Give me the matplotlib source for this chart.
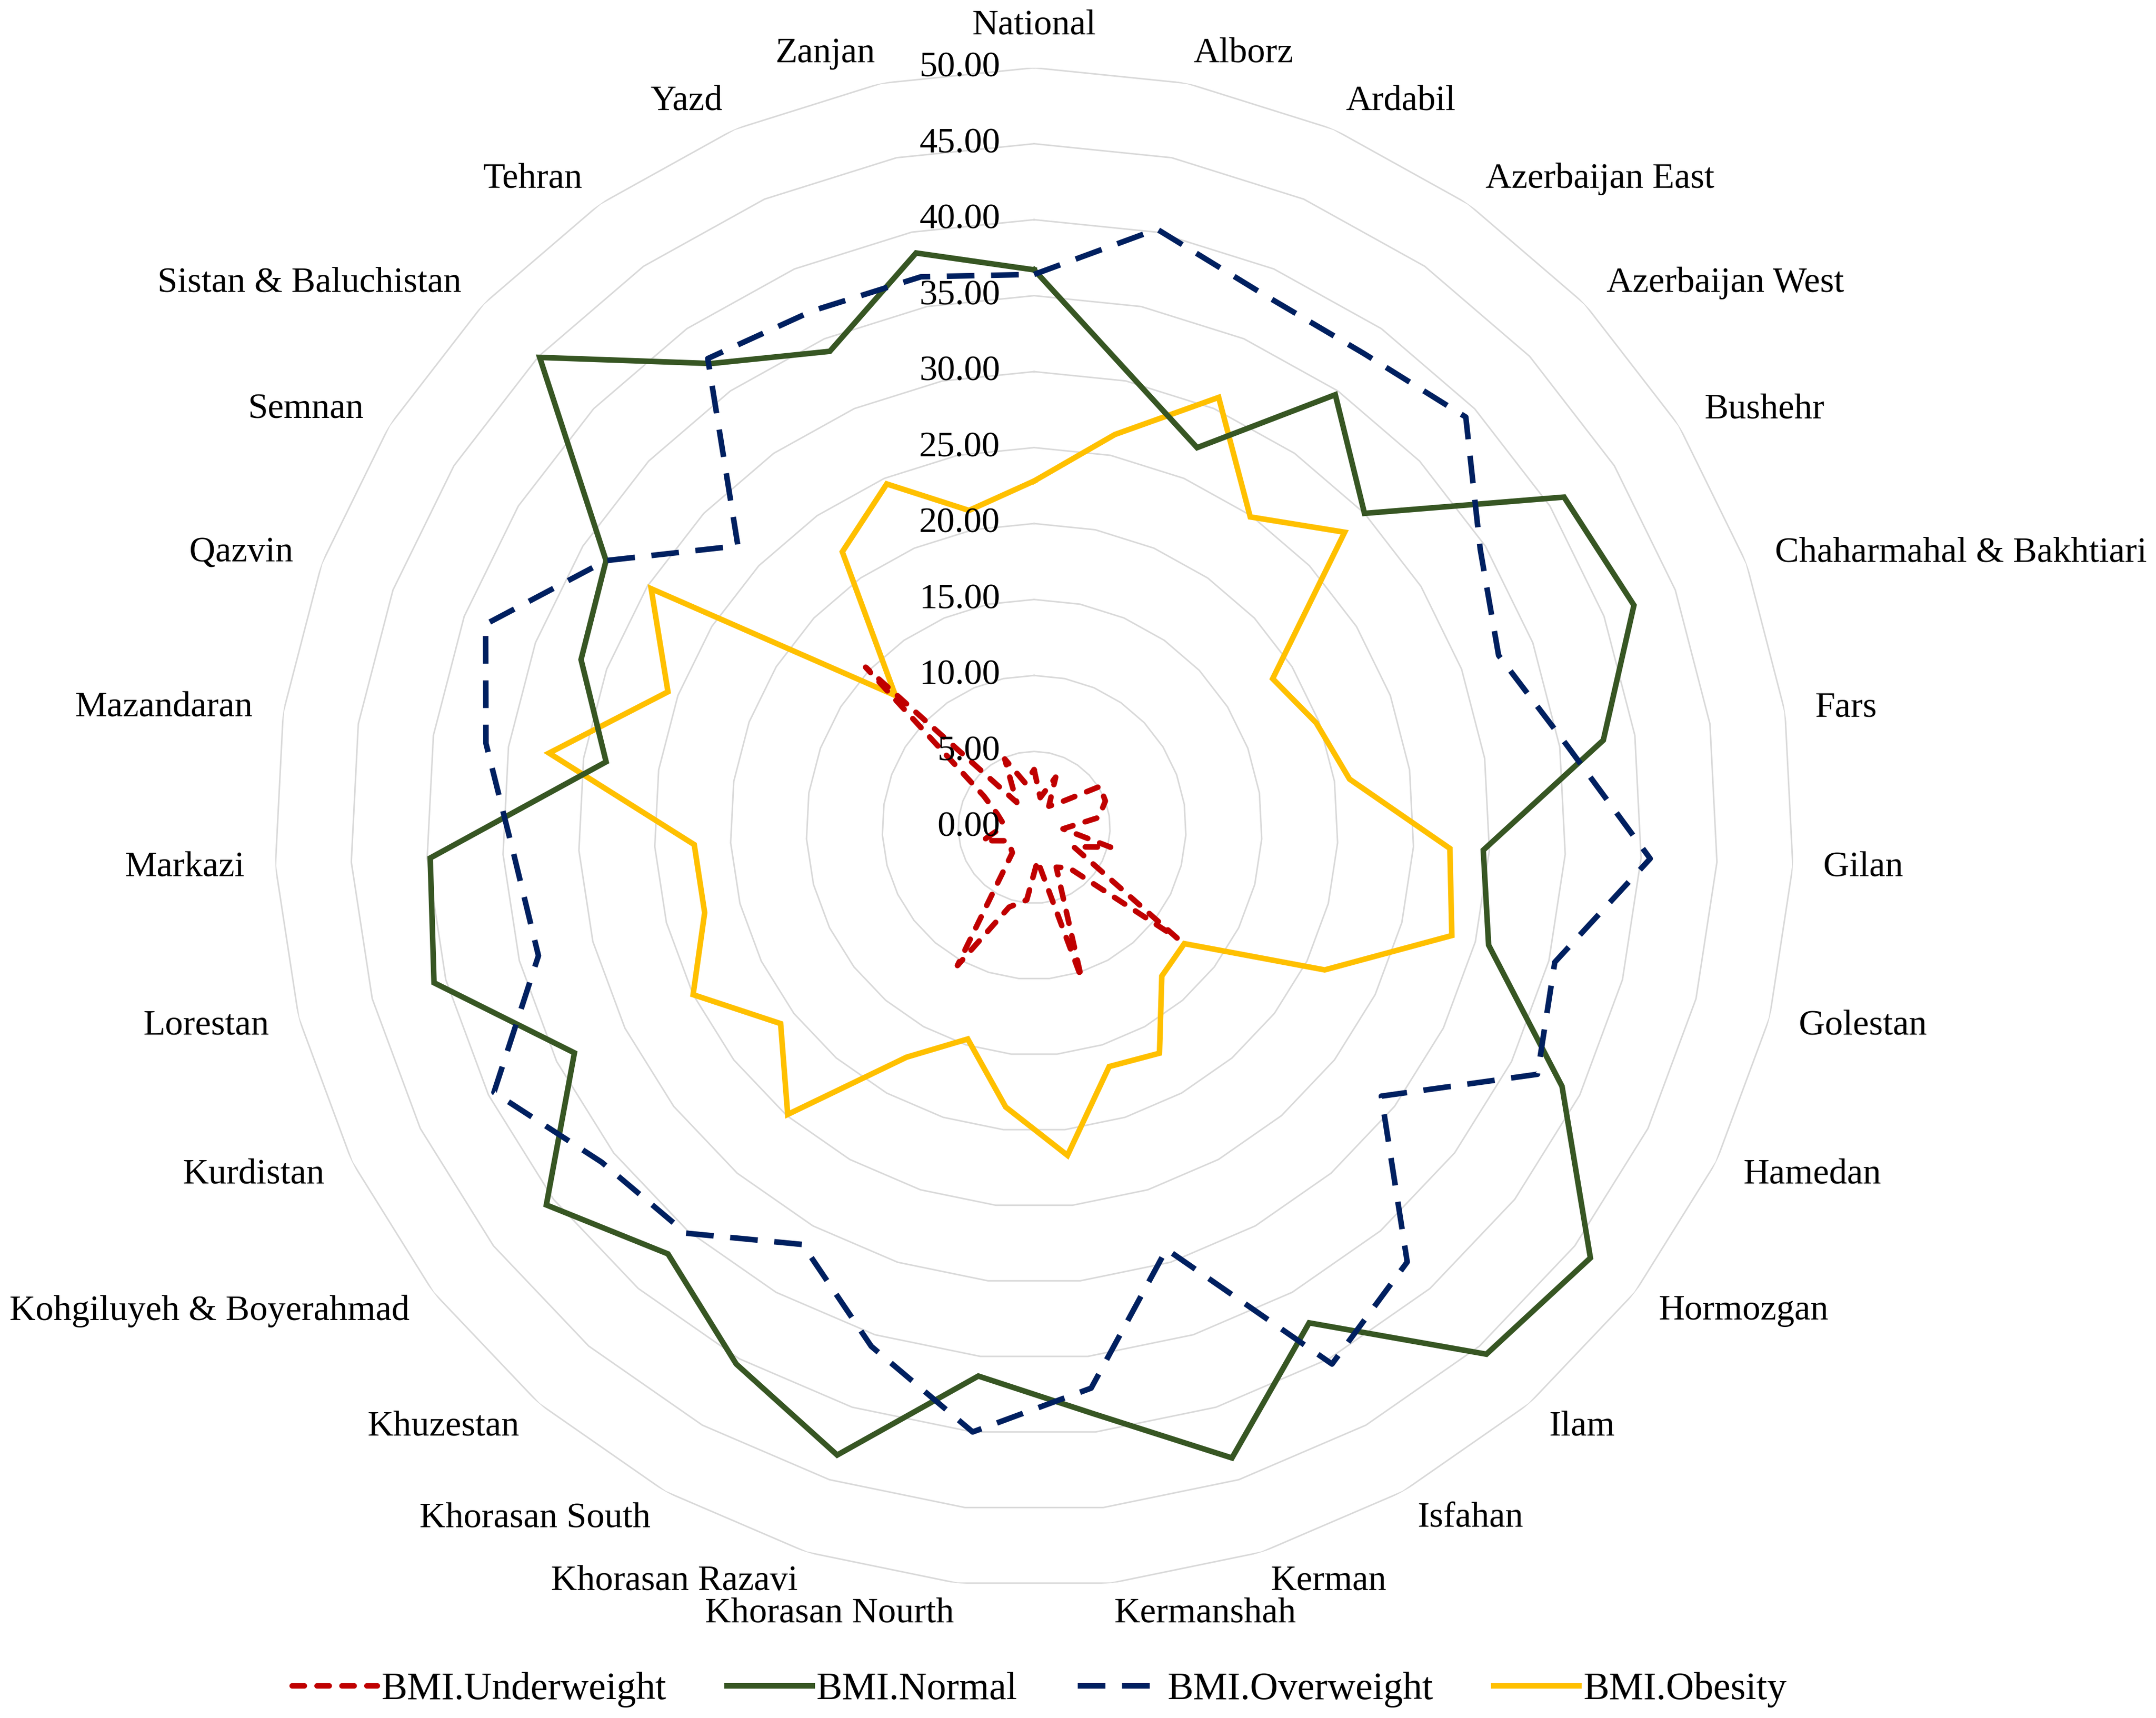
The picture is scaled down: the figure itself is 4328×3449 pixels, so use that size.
import numpy as np
import matplotlib
matplotlib.use("Agg")
import matplotlib.pyplot as plt
from matplotlib.transforms import offset_copy
from matplotlib.font_manager import FontProperties

plt.rcParams['font.family'] = ['Liberation Serif', 'DejaVu Serif']

categories = ["National", "Alborz", "Ardabil", "Azerbaijan East", "Azerbaijan West",
              "Bushehr", "Chaharmahal & Bakhtiari", "Fars", "Gilan", "Golestan",
              "Hamedan", "Hormozgan", "Ilam", "Isfahan", "Kerman", "Kermanshah",
              "Khorasan Nourth", "Khorasan Razavi", "Khorasan South", "Khuzestan",
              "Kohgiluyeh & Boyerahmad", "Kurdistan", "Lorestan", "Markazi",
              "Mazandaran", "Qazvin", "Semnan", "Sistan & Baluchistan", "Tehran",
              "Yazd", "Zanjan"]

underweight = [3.8, 2.0, 3.6, 1.7, 2.4, 5.1, 5.0, 4.3, 1.9, 5.2, 2.9, 11.9, 3.5, 3.0,
               10.4, 2.2, 4.8, 5.5, 10.4, 2.2, 2.0, 2.0, 3.5, 2.3, 2.1, 2.6, 3.9, 15.3,
               2.0, 4.9, 3.0]
normal = [36.7, 30.6, 27.2, 34.7, 30.0, 41.1, 42.1, 37.9, 29.6, 30.9, 38.7, 46.3, 45.7,
          37.3, 43.5, 38.8, 36.3, 43.3, 40.4, 37.0, 40.6, 33.7, 40.8, 39.8, 28.5, 31.8,
          33.2, 44.9, 37.2, 34.1, 38.6]
overweight = [36.4, 40.2, 38.2, 38.0, 39.2, 34.6, 32.6, 35.5, 40.6, 35.4, 36.9, 28.9,
              37.7, 40.4, 29.1, 37.1, 40.0, 35.8, 31.4, 35.2, 36.0, 39.6, 33.7, 34.3,
              36.5, 38.5, 33.2, 26.9, 37.6, 37.0, 37.0]
obesity = [22.8, 26.4, 30.8, 24.9, 28.2, 18.5, 19.8, 21.0, 27.4, 28.4, 21.3, 12.5, 12.9,
           17.0, 16.5, 21.7, 18.5, 14.6, 17.3, 24.9, 21.1, 25.0, 22.4, 22.4, 32.3, 25.7,
           29.7, 12.6, 22.1, 24.6, 21.3]

series_names = ["BMI.Underweight", "BMI.Normal", "BMI.Overweight", "BMI.Obesity"]
r_ticks = [0, 5, 10, 15, 20, 25, 30, 35, 40, 45, 50]

fig = plt.figure(figsize=(4328 / 200, 3449 / 200), dpi=200)
ax = fig.add_axes([0.1273, 0.07625, 0.7047, 0.8843], projection='polar')
ax.set_theta_zero_location('N')
ax.set_theta_direction(-1)

n = len(categories)
theta = np.arange(n) * 2 * np.pi / n
theta_c = np.append(theta, theta[0])


def close(v):
    return np.append(np.asarray(v, dtype=float), v[0])


# polygon gridlines
for v in r_ticks[1:]:
    ax.plot(theta_c, [v] * (n + 1), color='#d9d9d9', lw=1.1, zorder=0)

ax.grid(False)
ax.set_xticks([])
ax.set_yticks([])
ax.spines['polar'].set_visible(False)
ax.set_ylim(0, 50)
ax.patch.set_alpha(0)

l_ob, = ax.plot(theta_c, close(obesity), color='#ffc000', lw=4, zorder=2,
                solid_joinstyle='miter')
l_no, = ax.plot(theta_c, close(normal), color='#375623', lw=4, zorder=3,
                solid_joinstyle='miter')
l_ov, = ax.plot(theta_c, close(overweight), color='#002060', lw=4, zorder=4,
                dashes=(5, 3))
l_un, = ax.plot(theta_c, close(underweight), color='#c00000', lw=4, zorder=5,
                dashes=(2.2, 2.3), dash_capstyle='round')

# radial tick labels
tick_tr = offset_copy(ax.transData, fig=fig, x=-24.5, y=0, units='points')
for v in r_ticks:
    ax.text(0, v, f"{v:.2f}", transform=tick_tr, ha='right', va='center',
            fontsize=26, color='#000000', zorder=6)

# category labels
for i, name in enumerate(categories):
    a = np.degrees(theta[i])
    if i == 0:
        ax.text(theta[i], 52.2, name, ha='center', va='baseline', fontsize=26)
    elif a < 180:
        ax.text(theta[i], 52, name, ha='left', va='center', fontsize=26)
    else:
        ax.text(theta[i], 52, name, ha='right', va='center', fontsize=26)

leg_font = FontProperties(family='Liberation Serif', size=28)
leg = fig.legend([l_un, l_no, l_ov, l_ob], series_names, loc='center',
                 bbox_to_anchor=(0.482, 0.0165), ncol=4, frameon=False,
                 prop=leg_font, handlelength=2.2, handletextpad=0.12,
                 columnspacing=1.55)
for t in leg.get_texts():
    t.set_fontfamily('Liberation Serif')

fig.savefig("out.png", dpi=200, facecolor='white')
